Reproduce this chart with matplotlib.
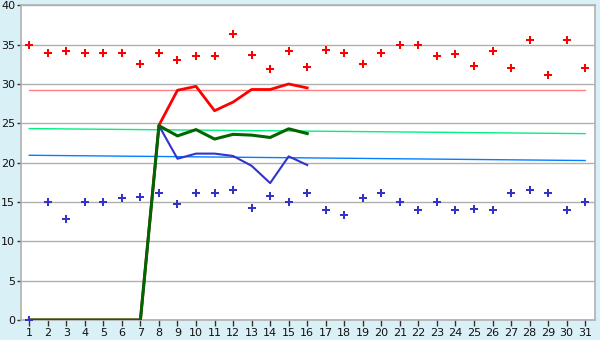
import matplotlib
matplotlib.use("Agg")
import matplotlib.pyplot as plt

days = list(range(1, 32))
red_points = [35.0, 34.0, 34.2, 34.0, 33.9, 33.9, 32.5, 34.0, 33.0, 33.6,
              33.5, 36.3, 33.7, 31.85, 34.2, 32.2, 34.3, 33.9, 32.5, 34.0,
              35.0, 35.0, 33.5, 33.8, 32.3, 34.2, 32.0, 35.6, 31.2, 35.6, 32.0]
blue_points = [0.0, 15.0, 12.8, 15.0, 15.0, 15.5, 15.6, 16.1, 14.7, 16.1,
               16.1, 16.5, 14.2, 15.7, 15.0, 16.1, 14.0, 13.3, 15.5, 16.1,
               15.0, 14.0, 15.0, 14.0, 14.1, 14.0, 16.1, 16.5, 16.1, 14.0, 15.0]

line_days = list(range(1, 17))
red_line = [0, 0, 0, 0, 0, 0, 0, 24.75, 29.2, 29.7, 26.6, 27.7, 29.3, 29.3, 30.0, 29.5]
green_line = [0, 0, 0, 0, 0, 0, 0, 24.7, 23.4, 24.2, 23.0, 23.6, 23.5, 23.2, 24.3, 23.7]
blue_line = [0, 0, 0, 0, 0, 0, 0, 24.7, 20.5, 21.15, 21.15, 20.85, 19.6, 17.4, 20.8, 19.7]

trend_days = [1, 31]
red_trend = [29.2, 29.2]
green_trend = [24.33, 23.69]
blue_trend = [20.94, 20.27]

yticks = [0, 5, 10, 15, 20, 25, 30, 35, 40]

fig = plt.figure(figsize=(6, 3.4), dpi=100, facecolor="#DAF0F7")
ax = fig.add_axes([0.0345, 0.0588, 0.9575, 0.9256])
ax.set_facecolor("white")

ax.plot(trend_days, red_trend, color="#FF8080", lw=1.0, zorder=2)
ax.plot(trend_days, green_trend, color="#00F080", lw=1.0, zorder=2)
ax.plot(trend_days, blue_trend, color="#0080FF", lw=1.0, zorder=2)

ax.plot(line_days, red_line, color="#FF0000", lw=2.0, zorder=3)
ax.plot(line_days, blue_line, color="#3333CC", lw=1.5, zorder=3)
ax.plot(line_days, green_line, color="#006600", lw=2.2, zorder=4)

ax.plot(days, red_points, ls="none", marker="P", ms=5.2, color="#FF0000",
        markeredgewidth=0, zorder=5)
ax.plot(days, blue_points, ls="none", marker="P", ms=5.2, color="#3333CC",
        markeredgewidth=0, zorder=5)

ax.set_xlim(0.54, 31.54)
ax.set_ylim(0, 40)
ax.set_xticks(days)
ax.set_yticks(yticks)
ax.tick_params(axis="both", labelsize=8, length=4, width=1, color="#333333",
               labelcolor="#111111", pad=1.5)
ax.tick_params(axis="y", length=3, pad=1)
ax.yaxis.grid(True, color="#B0B0B0", lw=1)
ax.set_axisbelow(True)
for s in ax.spines.values():
    s.set_color("#B0B0B0")
    s.set_linewidth(1.2)

fig.savefig("out.png", dpi=100, facecolor=fig.get_facecolor())
